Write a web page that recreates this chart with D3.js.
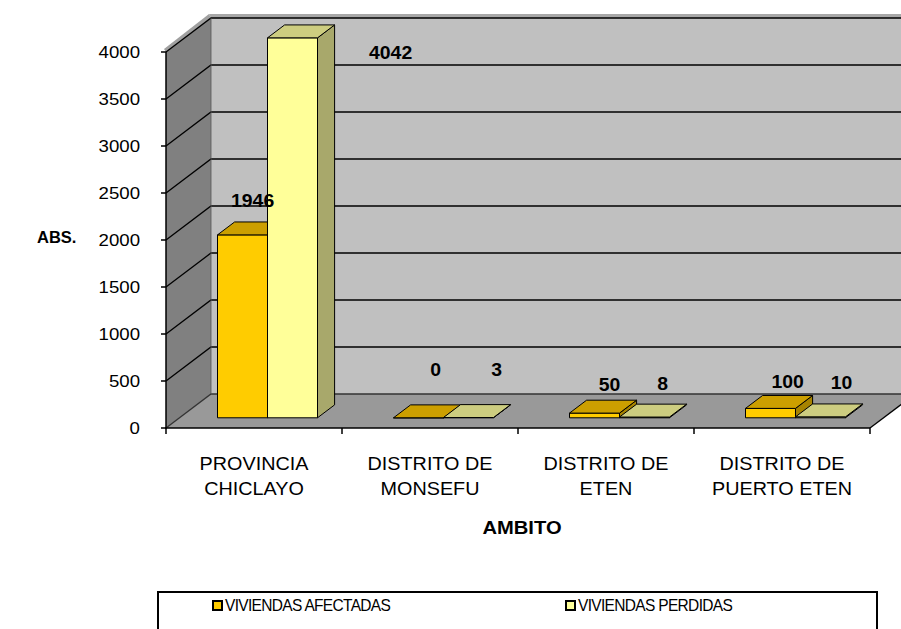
<!DOCTYPE html>
<html>
<head>
<meta charset="utf-8">
<script src="https://cdn.jsdelivr.net/npm/d3@7/dist/d3.min.js"></script>
<style>
  html, body { margin: 0; padding: 0; background: #fff; }
  svg { display: block; font-family: "Liberation Sans", Arial, sans-serif; }
</style>
</head>
<body>
<svg id="chart" width="901" height="629"></svg>
<script>
// ---------------- data ----------------
const categories = [["PROVINCIA", "CHICLAYO"], ["DISTRITO DE", "MONSEFU"], ["DISTRITO DE", "ETEN"], ["DISTRITO DE", "PUERTO ETEN"]];
const seriesNames = ["VIVIENDAS AFECTADAS", "VIVIENDAS PERDIDAS"];
const afectadas = [1946, 0, 50, 100];
const perdidas = [4042, 3, 8, 10];
const yTicks = [0, 500, 1000, 1500, 2000, 2500, 3000, 3500, 4000];
const yTitle = "ABS.";
const xTitle = "AMBITO";

// ---------------- layout / style ----------------
const svg = d3.select("#chart");
const X0 = 166, X1 = 870;          // front plane extent
const DX = 45, DY = -34;           // depth projection
const Z0 = 0.30, Z1 = 0.68;        // bar depth range
const SX = 1.15;                   // horizontal text stretch
const colors = [
  {front: "#FFCC00", top: "#CC9F00", side: "#A68300"},
  {front: "#FFFF99", top: "#CDCD80", side: "#A8A86B"}
];
// label nudges relative to back-top center of each bar [series][category]
const labelNudge = [
  [[-7, -15], [0, -29], [-2, -9], [0, -7]],
  [[81, 34], [11, -29], [1, -14], [4, -15]]
];

const x = d3.scaleBand().domain(d3.range(categories.length)).range([X0, X1]);
const y = d3.scaleLinear().domain([0, 4000]).range([428, 52]);
const P = (px, v, z) => [px + DX * z, y(v) + DY * z];
const poly = pts => pts.map(p => p.join(",")).join(" ");

function stretchText(g, tx, ty, str, opts) {
  const t = g.append("text")
    .attr("transform", `translate(${tx},${ty}) scale(${opts.sx || SX},1)`)
    .attr("text-anchor", opts.anchor || "middle")
    .attr("font-size", opts.size || 16)
    .attr("font-weight", opts.weight || "normal")
    .attr("fill", "#000")
    .text(str);
  if (opts.ls) t.attr("letter-spacing", opts.ls);
  return t;
}

// ---------------- walls ----------------
const walls = svg.append("g");
const vMax = 4000;
// back wall
walls.append("polygon").attr("points", poly([P(X0, vMax, 1), P(X1 + 60, vMax, 1), P(X1 + 60, 0, 1), P(X0, 0, 1)]))
  .attr("fill", "#C0C0C0");
// back wall edge shading
walls.append("polygon").attr("points", poly([[X0 + DX - 2, y(vMax) + DY - 4], [X1 + 60, y(vMax) + DY - 4], [X1 + 60, y(vMax) + DY], [X0 + DX, y(vMax) + DY]]))
  .attr("fill", "#A8A8A8");
// side wall
walls.append("polygon").attr("points", poly([P(X0, vMax, 0), P(X0, vMax, 1), P(X0, 0, 1), P(X0, 0, 0)]))
  .attr("fill", "#808080");
walls.append("polygon").attr("points", poly([[X0 - 2, y(vMax) - 3], [X0 + DX - 2, y(vMax) + DY - 4], [X0 + DX, y(vMax) + DY], [X0, y(vMax)]]))
  .attr("fill", "#A0A0A0");
// floor
walls.append("polygon").attr("points", poly([P(X0, 0, 0), P(X1, 0, 0), P(X1, 0, 1), P(X0, 0, 1)]))
  .attr("fill", "#999999");

// gridlines
const grid = svg.append("g").attr("stroke", "#000").attr("stroke-width", 1.3).attr("fill", "none");
yTicks.forEach(v => {
  const a = P(X0, v, 0), b = P(X0, v, 1), c = P(X1 + 60, v, 1);
  grid.append("polyline").attr("points", poly([a, b, c]))
    .attr("stroke", v === 0 ? "#333" : "#000");
});
grid.append("line").attr("x1", X0 + DX).attr("x2", X0 + DX).attr("y1", y(vMax) + DY).attr("y2", y(0) + DY).attr("stroke", "#555").attr("stroke-width", 0.8);
grid.append("line").attr("x1", X1).attr("y1", y(0)).attr("x2", X1 + DX).attr("y2", y(0) + DY).attr("stroke", "#000");

// ---------------- bars ----------------
const bars = svg.append("g").attr("stroke", "#000").attr("stroke-width", 1).attr("stroke-linejoin", "round");
const bw = 50;
const series = [afectadas, perdidas];
categories.forEach((c, i) => {
  const off = (x.bandwidth() - 2 * bw) / 2;
  series.forEach((vals, s) => {
    const v = vals[i];
    const xl = x(i) + off + s * bw, xr = xl + bw;
    const col = colors[s];
    bars.append("polygon").attr("points", poly([P(xr, v, Z0), P(xr, v, Z1), P(xr, 0, Z1), P(xr, 0, Z0)]))
      .attr("fill", col.side);
    bars.append("polygon").attr("points", poly([P(xl, v, Z0), P(xr, v, Z0), P(xr, 0, Z0), P(xl, 0, Z0)]))
      .attr("fill", col.front);
    bars.append("polygon").attr("points", poly([P(xl, v, Z0), P(xr, v, Z0), P(xr, v, Z1), P(xl, v, Z1)]))
      .attr("fill", col.top);
  });
});

// ---------------- axes ----------------
const ax = svg.append("g").attr("stroke", "#000").attr("stroke-width", 1.5);
ax.append("line").attr("x1", X0).attr("x2", X0).attr("y1", y(vMax)).attr("y2", y(0) + 1);
ax.append("line").attr("x1", X0 - 1).attr("x2", X1).attr("y1", y(0)).attr("y2", y(0));
yTicks.forEach(v => ax.append("line").attr("x1", X0 - 5).attr("x2", X0).attr("y1", y(v)).attr("y2", y(v)));
d3.range(categories.length + 1).forEach(i => {
  const px = i < categories.length ? x(i) : X1;
  ax.append("line").attr("x1", px).attr("x2", px).attr("y1", y(0)).attr("y2", y(0) + 6);
});

const txt = svg.append("g");
yTicks.forEach(v => stretchText(txt, 140, y(v) + 6, String(v), {anchor: "end", size: 16.5, sx: 1.13}));
stretchText(txt, 37, 243, yTitle, {anchor: "start", size: 16.5, weight: "bold", sx: 1.0});
categories.forEach((c, i) => {
  const cx = x(i) + x.bandwidth() / 2;
  c.forEach((line, k) => stretchText(txt, cx, 470 + k * 25, line, {size: 18, sx: 1.1}));
});
stretchText(txt, 522, 534, xTitle, {size: 18, weight: "bold", sx: 1.12});

// value labels
series.forEach((vals, s) => {
  vals.forEach((v, i) => {
    const off = (x.bandwidth() - 2 * bw) / 2;
    const xc = x(i) + off + s * bw + bw / 2;
    const p = P(xc, v, Z1);
    const n = labelNudge[s][i];
    stretchText(txt, p[0] + n[0], p[1] + n[1], String(v), {size: 18.5, weight: "bold", sx: 1.05});
  });
});

// ---------------- legend ----------------
const lg = svg.append("g");
lg.append("rect").attr("x", 158).attr("y", 592).attr("width", 719).attr("height", 60)
  .attr("fill", "#fff").attr("stroke", "#000").attr("stroke-width", 2);
const legX = [213, 566];
seriesNames.forEach((name, s) => {
  lg.append("rect").attr("x", legX[s]).attr("y", 601).attr("width", 9).attr("height", 9)
    .attr("fill", colors[s].front).attr("stroke", "#000").attr("stroke-width", 2);
  stretchText(lg, legX[s] + 12, 611, name, {anchor: "start", size: 16, sx: 0.97, ls: -0.7});
});
</script>
</body>
</html>
